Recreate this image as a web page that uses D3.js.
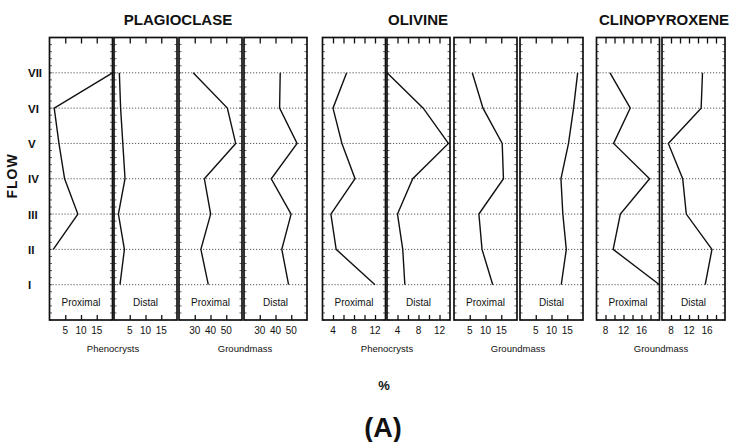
<!DOCTYPE html>
<html>
<head>
<meta charset="utf-8">
<script src="https://cdn.jsdelivr.net/npm/d3@7"></script>
<style>
  html, body { margin: 0; padding: 0; background: #fff; }
  svg { display: block; font-family: "Liberation Sans", Arial, Helvetica, sans-serif; }
</style>
</head>
<body>
<svg id="chart" width="730" height="442"></svg>
<script>
// Flow units, bottom (I) to top (VII)
const flows = ["I", "II", "III", "IV", "V", "VI", "VII"];

// Modal abundances (%) per flow, ordered I..VII
const plagPhenoProximal  = [null, 1.2, 9.0, 4.8, 3.0, 1.5, 20.0];
const plagPhenoDistal    = [1.9, 3.3, 1.4, 3.5, 2.8, 2.1, 1.7];
const plagGroundProximal = [38.6, 33.9, 40.1, 36.1, 56.0, 50.7, 29.0];
const plagGroundDistal   = [48.3, 44.0, 49.9, 37.3, 53.7, 42.6, 43.0];
const olPhenoProximal    = [12.0, 4.6, 3.6, 8.2, 5.7, 4.0, 6.6];
const olPhenoDistal      = [5.4, 5.0, 4.0, 6.9, 13.7, 8.9, 2.0];
const olGroundProximal   = [12.3, 8.9, 7.9, 15.7, 15.3, 9.2, 5.8];
const olGroundDistal     = [13.1, 14.7, 13.6, 13.0, 15.4, 17.0, 18.3];
const cpxGroundProximal  = [20.0, 9.7, 11.3, 17.8, 9.8, 13.5, 9.0];
const cpxGroundDistal    = [15.6, 17.1, 11.4, 10.6, 7.4, 14.7, 15.0];

// Axis ticks and labelled ticks
const plagPhenoTicks  = [5, 10, 15];
const plagGroundTicks = [30, 40, 50];
const olPhenoTicks    = [4, 6, 8, 10, 12];
const olPhenoLabels   = [4, 8, 12];
const olGroundTicks   = [5, 10, 15];
const cpxTicks        = [8, 10, 12, 14, 16, 18];
const cpxLabels       = [8, 12, 16];

// Panel definitions
const panels = [
  { values: plagPhenoProximal,  domain: [0, 20],  ticks: plagPhenoTicks,  labels: plagPhenoTicks,  left: 49.5,  site: "Proximal" },
  { values: plagPhenoDistal,    domain: [0, 20],  ticks: plagPhenoTicks,  labels: plagPhenoTicks,  left: 114,   site: "Distal" },
  { values: plagGroundProximal, domain: [20, 60], ticks: plagGroundTicks, labels: plagGroundTicks, left: 179,   site: "Proximal" },
  { values: plagGroundDistal,   domain: [20, 60], ticks: plagGroundTicks, labels: plagGroundTicks, left: 244,   site: "Distal" },
  { values: olPhenoProximal,    domain: [2, 14],  ticks: olPhenoTicks,    labels: olPhenoLabels,   left: 322.5, site: "Proximal" },
  { values: olPhenoDistal,      domain: [2, 14],  ticks: olPhenoTicks,    labels: olPhenoLabels,   left: 387,   site: "Distal" },
  { values: olGroundProximal,   domain: [0, 20],  ticks: olGroundTicks,   labels: olGroundTicks,   left: 454,   site: "Proximal" },
  { values: olGroundDistal,     domain: [0, 20],  ticks: olGroundTicks,   labels: olGroundTicks,   left: 520,   site: "Distal" },
  { values: cpxGroundProximal,  domain: [6, 20],  ticks: cpxTicks,        labels: cpxLabels,       left: 596.5, site: "Proximal" },
  { values: cpxGroundDistal,    domain: [6, 20],  ticks: cpxTicks,        labels: cpxLabels,       left: 662,   site: "Distal" }
];

const groups = [
  { title: "PLAGIOCLASE",   cx: 178 },
  { title: "OLIVINE",       cx: 418 },
  { title: "CLINOPYROXENE", cx: 664 }
];
const subtitles = [
  { text: "Phenocrysts", cx: 113 },
  { text: "Groundmass",  cx: 245 },
  { text: "Phenocrysts", cx: 387 },
  { text: "Groundmass",  cx: 518 },
  { text: "Groundmass",  cx: 661 }
];

const panelW = 63;
const frameTop = 37.5, frameBottom = 320;
const svg = d3.select("#chart");

// Shared vertical scale: flow index 1..7 inside domain 0..8
const y = d3.scaleLinear().domain([0, 8]).range([frameBottom, frameTop]);
const minorY = d3.range(0, 8.01, 0.2);

panels.forEach(p => {
  const x = d3.scaleLinear().domain(p.domain).range([p.left, p.left + panelW]);
  const g = svg.append("g");

  // dotted flow gridlines
  g.selectAll("line.grid").data(flows).join("line")
    .attr("x1", p.left).attr("x2", p.left + panelW)
    .attr("y1", (d, i) => y(i + 1)).attr("y2", (d, i) => y(i + 1))
    .attr("stroke", "#444").attr("stroke-width", 0.9)
    .attr("stroke-dasharray", "1.2,1.8");

  // inward bottom and top ticks
  const axB = d3.axisTop(x).tickValues(p.ticks).tickSize(5).tickFormat("");
  g.append("g").attr("transform", `translate(0,${frameBottom})`).call(axB)
    .call(s => s.select(".domain").remove())
    .call(s => s.selectAll("line").attr("stroke", "#111").attr("stroke-width", 1.3));
  const axT = d3.axisBottom(x).tickValues(p.ticks).tickSize(6).tickFormat("");
  g.append("g").attr("transform", `translate(0,${frameTop})`).call(axT)
    .call(s => s.select(".domain").remove())
    .call(s => s.selectAll("line").attr("stroke", "#111").attr("stroke-width", 1.3));

  // minor ticks along both side edges
  [p.left, p.left + panelW].forEach((ex, k) => {
    g.selectAll(null).data(minorY).join("line")
      .attr("x1", ex).attr("x2", ex + (k === 0 ? 2.5 : -2.5))
      .attr("y1", d => y(d)).attr("y2", d => y(d))
      .attr("stroke", "#333").attr("stroke-width", 0.8);
  });

  // frame
  g.append("rect")
    .attr("x", p.left).attr("y", frameTop)
    .attr("width", panelW).attr("height", frameBottom - frameTop)
    .attr("fill", "none").attr("stroke", "#111").attr("stroke-width", 1.7);

  // profile line
  const line = d3.line()
    .defined(d => d != null)
    .x(d => x(d))
    .y((d, i) => y(i + 1));
  g.append("path").datum(p.values)
    .attr("d", line)
    .attr("fill", "none").attr("stroke", "#111").attr("stroke-width", 1.4);

  // site label inside panel
  g.append("text")
    .attr("x", p.left + panelW / 2).attr("y", 306)
    .attr("text-anchor", "middle").attr("font-size", 10).attr("fill", "#111")
    .text(p.site);

  // tick labels below panel
  g.selectAll("text.tl").data(p.labels).join("text")
    .attr("x", d => x(d)).attr("y", 334)
    .attr("text-anchor", "middle").attr("font-size", 10).attr("fill", "#111")
    .text(d => d);
});

// flow labels
svg.selectAll("text.flow").data(flows).join("text")
  .attr("x", 28).attr("y", (d, i) => y(i + 1) + 4.5)
  .attr("font-size", 11.5).attr("font-weight", "bold").attr("fill", "#111")
  .text(d => d);

svg.append("text")
  .attr("transform", "translate(17,176) rotate(-90)")
  .attr("text-anchor", "middle").attr("font-size", 14).attr("font-weight", "bold")
  .attr("fill", "#111").attr("letter-spacing", 1)
  .text("FLOW");

// group titles
svg.selectAll("text.title").data(groups).join("text")
  .attr("x", d => d.cx).attr("y", 25)
  .attr("text-anchor", "middle").attr("font-size", 15).attr("font-weight", "bold")
  .attr("fill", "#111")
  .text(d => d.title);

// component subtitles
svg.selectAll("text.sub").data(subtitles).join("text")
  .attr("x", d => d.cx).attr("y", 352)
  .attr("text-anchor", "middle").attr("font-size", 9.5).attr("fill", "#111")
  .text(d => d.text);

svg.append("text")
  .attr("x", 384).attr("y", 390)
  .attr("text-anchor", "middle").attr("font-size", 13).attr("font-weight", "bold")
  .attr("fill", "#111").text("%");

svg.append("text")
  .attr("x", 383).attr("y", 437)
  .attr("text-anchor", "middle").attr("font-size", 27).attr("font-weight", "bold")
  .attr("fill", "#111").text("(A)");
</script>
</body>
</html>
